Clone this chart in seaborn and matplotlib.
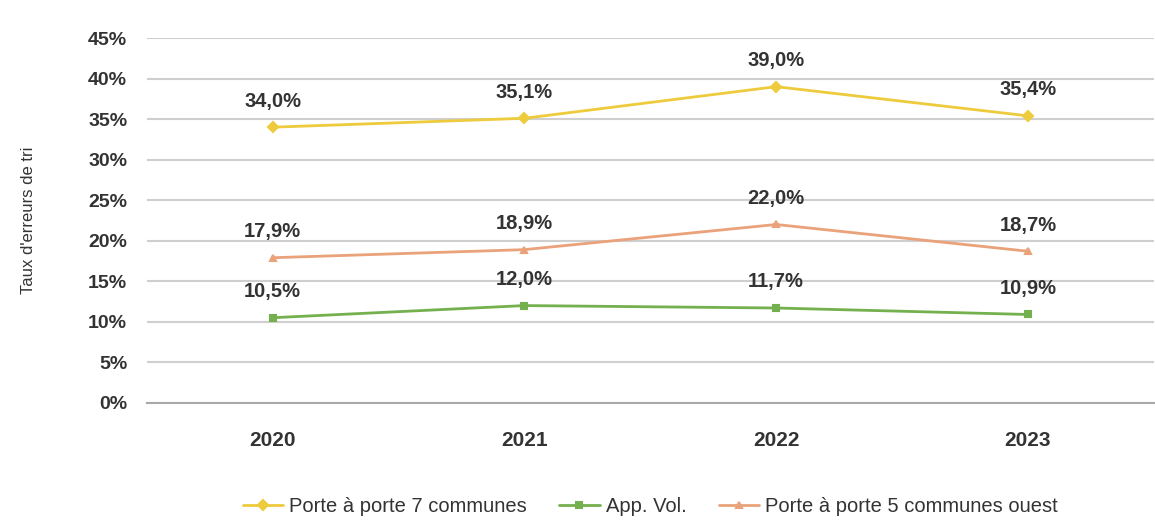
import pandas as pd
import matplotlib
matplotlib.use("Agg")
import matplotlib.pyplot as plt
import seaborn as sns
from matplotlib.ticker import FixedLocator

# Données
annees = ['2020', '2021', '2022', '2023']
series = ['Porte à porte 7 communes', 'App. Vol.', 'Porte à porte 5 communes ouest']
pap7 = [34.0, 35.1, 39.0, 35.4]
app_vol = [10.5, 12.0, 11.7, 10.9]
pap5 = [17.9, 18.9, 22.0, 18.7]

couleurs = ['#EDCB3C', '#74B04E', '#E9A27A']
marqueurs = ['D', 's', '^']

df = pd.DataFrame({
    'annee': annees * 3,
    'serie': [series[0]] * 4 + [series[1]] * 4 + [series[2]] * 4,
    'taux': pap7 + app_vol + pap5,
})

sns.set_theme(style='white')
plt.rcParams['font.family'] = ['Liberation Sans', 'DejaVu Sans']

fig = plt.figure(figsize=(11.55, 5.28), dpi=100)
ax = fig.add_axes([0.127, 0.237, 0.872, 0.691])

for i, s in enumerate(series):
    sub = df[df['serie'] == s]
    sns.pointplot(data=sub, x='annee', y='taux', order=annees, color=couleurs[i],
                  marker=marqueurs[i], markersize=5, linewidth=2, errorbar=None,
                  label=s, ax=ax)
    for j, v in enumerate(sub['taux']):
        ax.annotate(f"{v:.1f}%".replace('.', ','), (j, v), xytext=(0, 12),
                    textcoords='offset points', ha='center', va='bottom',
                    fontsize=14.5, fontweight='bold', color='#333333')

ax.set_ylim(0, 45)
ax.set_xlim(-0.5, 3.5)
ax.set_yticks(range(0, 50, 5))
ax.set_yticklabels([f"{t}%" for t in range(0, 50, 5)], fontsize=14, fontweight='bold', color='#333333')
ax.set_xticks(range(4))
ax.set_xticklabels(annees, fontsize=15, fontweight='bold', color='#333333')
ax.xaxis.set_minor_locator(FixedLocator([-0.5, 0.5, 1.5, 2.5, 3.5]))
ax.tick_params(axis='x', which='major', length=0, pad=20)
ax.tick_params(axis='x', which='minor', length=5, direction='inout', color='#A0A0A0', width=1.2)
ax.tick_params(axis='y', length=0, pad=14)
ax.grid(axis='y', color='#CFCFCF', linewidth=1.5)
ax.set_axisbelow(True)
for side in ['top', 'right', 'left']:
    ax.spines[side].set_visible(False)
ax.spines['bottom'].set_color('#A8A8A8')
ax.spines['bottom'].set_linewidth(1.5)

ax.set_xlabel('')
ax.set_ylabel("Taux d'erreurs de tri", fontsize=12, color='#333333')
ax.yaxis.set_label_coords(-0.11, 0.5)

ax.legend(loc='center', bbox_to_anchor=(0.5, -0.285), ncol=3, frameon=False,
          fontsize=14.5, handlelength=2.0, handletextpad=0.3, columnspacing=1.6,
          labelcolor='#333333')

fig.savefig('out.png', dpi=100)
